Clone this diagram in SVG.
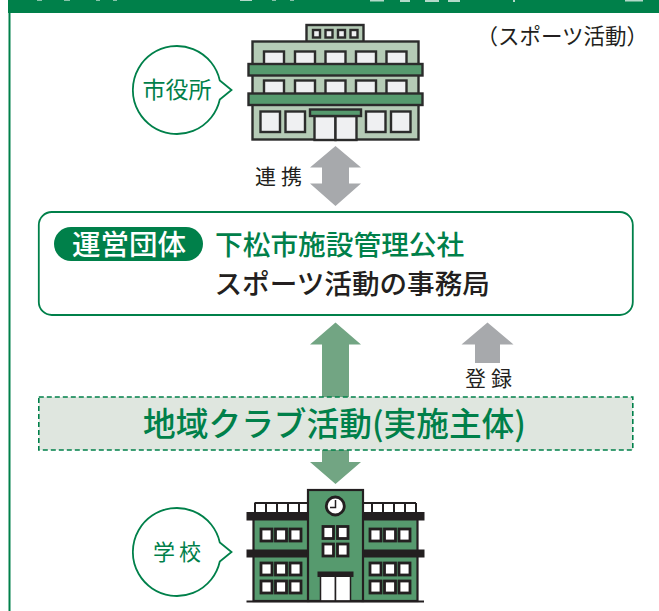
<svg xmlns="http://www.w3.org/2000/svg" width="659" height="611" viewBox="0 0 659 611">
<defs><style>
text{font-family:"Noto Sans CJK JP","Noto Sans",sans-serif;fill:#231f20}
.g{fill:#00804a}
.w{fill:#fff}
.b{fill:#fff;stroke:#00804a;stroke-width:1.800}
.ln{fill:#b5cbb6;stroke:#2b2b2b;stroke-width:2.400}
.band{fill:#569a6e;stroke:#2b2b2b;stroke-width:2.400}
.win{fill:#eff0f2;stroke:#2b2b2b;stroke-width:2.400}
.s{fill:#569a6e;stroke:#231f20;stroke-width:2.200}
.sw{fill:#fff;stroke:#231f20;stroke-width:2.800}
.bar{fill:#231f20}
.ag{fill:#72a583}
.ay{fill:#a7a9ac}
</style></defs>
<rect width="659" height="611" fill="#fff"/>
<g id="frame">
<rect x="8" y="0" width="651" height="13" class="g"/>
<rect x="8.500" y="13" width="2" height="598" class="g"/>
<path d="M37 0h5v.8h-5zM64 0h6v.8h-6zM96 0h4v.8h-4zM113 0h4v.8h-4zM240 0h12v1h-12zM272 0h4v.8h-4zM290 0h4v.8h-4zM370 0h14v1.500h-14zM400 0h10v2h-10zM425 0h14v2h-14zM448 0h12v2h-12zM513 0h2v2h-2zM625 0h18v1.500h-18z" fill="#fff" opacity=".7"/>
</g>
<g id="connectors">
<path class="ay" d="M335.500 146L361 167.500H349V183.500H361L335.500 206L310 183.500H322V167.500H310Z"/>
<path class="ag" d="M335.500 322.500L361 344.500H349V400H322V344.500H310Z"/>
<path class="ag" d="M322 448H349V462H361L335.500 484L310 462H322Z"/>
<path class="ay" d="M487.500 322.500L513.500 344.500H500V363H475V344.500H461.500Z"/>
</g>
<g id="note"><text x="476.500" y="44" font-size="21.500">（スポーツ活動）</text></g>
<g id="city-bubble">
<path class="b" d="M219.800 80.500A44 44 0 1 0 219.800 99.500L231.500 90Z"/>
<text x="177" y="98" font-size="23" text-anchor="middle" class="g">市役所</text>
</g>
<g id="city-hall">
<rect class="ln" x="306.500" y="25" width="57" height="17"/>
<g class="win"><rect x="313" y="30" width="7" height="7.500"/><rect x="325.500" y="30" width="7" height="7.500"/><rect x="338" y="30" width="7" height="7.500"/><rect x="350.500" y="30" width="7" height="7.500"/></g>
<rect class="ln" x="252.500" y="41.500" width="166" height="98"/>
<g class="win">
<rect x="264" y="51.500" width="20" height="14"/><rect x="295" y="51.500" width="20" height="14"/><rect x="325.500" y="51.500" width="20" height="14"/><rect x="356" y="51.500" width="20" height="14"/><rect x="386.500" y="51.500" width="20" height="14"/>
<rect x="264" y="80.500" width="20" height="14"/><rect x="295" y="80.500" width="20" height="14"/><rect x="325.500" y="80.500" width="20" height="14"/><rect x="356" y="80.500" width="20" height="14"/><rect x="386.500" y="80.500" width="20" height="14"/>
<rect x="260.500" y="111.500" width="19.500" height="20.500"/><rect x="285.500" y="111.500" width="19.500" height="20.500"/><rect x="366" y="111.500" width="19.500" height="20.500"/><rect x="391" y="111.500" width="19.500" height="20.500"/>
<rect x="314.500" y="116" width="21" height="24"/><rect x="335.500" y="116" width="21" height="24"/>
</g>
<rect class="band" x="248.500" y="64" width="174" height="11.500"/>
<rect class="band" x="248.500" y="93.500" width="174" height="11.500"/>
<rect class="band" x="310" y="109.500" width="51" height="6.500"/>
</g>
<g id="renkei-label"><text x="255" y="184" font-size="21" letter-spacing="5">連携</text></g>
<g id="operator">
<rect class="b" x="38.800" y="212" width="594" height="103" rx="13"/>
<rect class="g" x="54" y="227" width="149" height="34" rx="17"/>
<text x="72" y="254.500" font-size="28.500" class="w" font-weight="500">運営団体</text>
<text x="215" y="255" font-size="27.700" class="g" font-weight="500">下松市施設管理公社</text>
<text x="214.500" y="294" font-size="27.600" font-weight="500">スポーツ活動の事務局</text>
</g>
<g id="toroku-label"><text x="465" y="386" font-size="21" letter-spacing="5">登録</text></g>
<g id="club">
<rect x="38.800" y="397" width="594" height="53" fill="#dfe6df" stroke="#00804a" stroke-width="1.600" stroke-dasharray="5 3"/>
<text x="334.500" y="435.500" font-size="32.700" text-anchor="middle" class="g" font-weight="500">地域クラブ活動(実施主体)</text>
</g>
<g id="school-bubble">
<path class="b" d="M219.800 542.500A44 44 0 1 0 219.800 561.500L231.500 552Z"/>
<text x="153" y="560" font-size="22" letter-spacing="4" class="g">学校</text>
</g>
<g id="school">
<rect class="s" x="253.500" y="518" width="55" height="83"/>
<rect class="s" x="362.500" y="518" width="55" height="83"/>
<path d="M254.500 503H307M363 503H416" stroke="#231f20" stroke-width="2" fill="none"/>
<path d="M255 503V513M266 503V513M277 503V513M288 503V513M299 503V513M372 503V513M383 503V513M394 503V513M405 503V513M416 503V513" stroke="#231f20" stroke-width="2"/>
<rect class="bar" x="246.500" y="512" width="62" height="8.500"/><rect class="bar" x="362.500" y="512" width="62" height="8.500"/>
<rect class="bar" x="246.500" y="549.500" width="62" height="8"/><rect class="bar" x="362.500" y="549.500" width="62" height="8"/>
<rect class="s" x="308" y="490" width="55" height="111"/>
<circle cx="335.300" cy="506" r="9" fill="#fff" stroke="#231f20" stroke-width="2.800"/>
<path d="M335.500 500V507.500H330" fill="none" stroke="#231f20" stroke-width="1.500"/>
<g class="sw">
<rect x="261" y="529" width="11" height="12"/><rect x="275.500" y="529" width="11" height="12"/><rect x="290" y="529" width="11" height="12"/>
<rect x="261" y="563" width="11" height="12"/><rect x="275.500" y="563" width="11" height="12"/><rect x="290" y="563" width="11" height="12"/>
<rect x="261" y="581" width="11" height="12"/><rect x="275.500" y="581" width="11" height="12"/><rect x="290" y="581" width="11" height="12"/>
<rect x="370" y="529" width="11" height="12"/><rect x="384.500" y="529" width="11" height="12"/><rect x="399" y="529" width="11" height="12"/>
<rect x="370" y="563" width="11" height="12"/><rect x="384.500" y="563" width="11" height="12"/><rect x="399" y="563" width="11" height="12"/>
<rect x="370" y="581" width="11" height="12"/><rect x="384.500" y="581" width="11" height="12"/><rect x="399" y="581" width="11" height="12"/>
<rect x="323" y="526.500" width="10.500" height="12"/><rect x="337.500" y="526.500" width="10.500" height="12"/>
<rect x="323" y="544" width="10.500" height="12"/><rect x="337.500" y="544" width="10.500" height="12"/>
</g>
<rect x="320.500" y="576" width="15" height="25" fill="#fff" stroke="#231f20" stroke-width="1.500"/><rect x="335.500" y="576" width="15" height="25" fill="#fff" stroke="#231f20" stroke-width="1.500"/>
<rect class="bar" x="317.500" y="571.500" width="36" height="5.500"/>
<rect class="bar" x="246.500" y="600.500" width="177.500" height="2"/>
</g>
</svg>
